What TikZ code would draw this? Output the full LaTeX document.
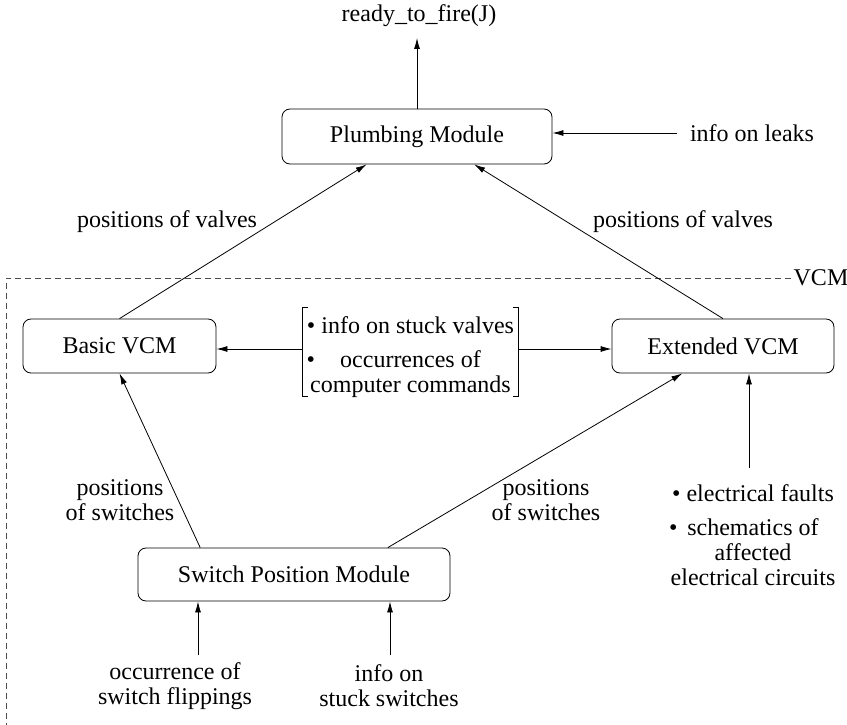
\documentclass[tikz,border=0pt]{standalone}
\usepackage{fontspec}
\setmainfont{Liberation Serif}
\usetikzlibrary{arrows.meta}
\tikzset{
  every node/.style={font=\fontsize{24}{25}\selectfont},
  modbox/.style={draw, rounded corners=8pt, line width=0.8pt, inner sep=0pt, minimum height=54pt},
  txt/.style={inner sep=0pt, align=center},
  conn/.style={line width=0.8pt, -{Latex[length=11pt,width=6pt]}},
  frame/.style={dashed, dash pattern=on 6pt off 4pt, line width=0.8pt, black!70},
  brk/.style={line width=0.8pt}
}
\begin{document}
\begin{tikzpicture}[x=1pt,y=-1pt]
\path[use as bounding box] (0,0) rectangle (847,725);

% modules
\node[modbox, minimum width=270pt, minimum height=55pt] (pm) at (417,136.5) {Plumbing Module};
\node[modbox, minimum width=193pt] (bv) at (119.5,346) {Basic VCM};
\node[modbox, minimum width=222pt] (ev) at (723,346) {Extended VCM};
\node[modbox, minimum width=312pt, minimum height=53pt] (spm) at (294,574.5) {Switch Position Module};

% texts
\node[txt] (rtf) at (419,16) {ready\_to\_fire(J)};
\node[txt] (leaks) at (752,133) {info on leaks};
\node[txt] (pv1) at (167,222) {positions of valves};
\node[txt] (pv2) at (683,222) {positions of valves};
\node[txt, inner sep=2pt] (vcm) at (821,278) {VCM};
\node[txt] (ps1) at (120,500) {positions\\of switches};
\node[txt] (ps2) at (546,500) {positions\\of switches};
\node[txt] (flip) at (175,686) {occurrence of\\switch flippings};
\node[txt] (stuck) at (389,686) {info on\\stuck switches};
\node[txt] (elec) at (753,535) {\makebox[168pt]{\textbullet\ electrical faults}\\[9pt]
  \makebox[168pt]{\rlap{\textbullet}\hfill schematics of\hfill}\\ affected\\ electrical circuits};
\node[txt, inner xsep=4pt, inner ysep=3pt, minimum height=88pt] (br) at (410.5,357)
  {\makebox[208pt]{\textbullet\ info on stuck valves}\\[9pt]
   \makebox[208pt]{\rlap{\textbullet}\hfill occurrences of\hfill}\\ computer commands};

% brackets
\draw[brk] ([xshift=6pt,yshift=5pt]br.north west) -- ([yshift=5pt]br.north west) -- ([yshift=5pt]br.south west) -- ([xshift=6pt,yshift=5pt]br.south west);
\draw[brk] ([xshift=-6pt,yshift=5pt]br.north east) -- ([yshift=5pt]br.north east) -- ([yshift=5pt]br.south east) -- ([xshift=-6pt,yshift=5pt]br.south east);

% VCM frame
\draw[frame] (vcm.west) -- (6,278) -- (6,730);

% free ends
\coordinate (rtfin) at (417,38);
\coordinate (lk) at (677,133);
\coordinate (f1) at (198,655);
\coordinate (f2) at (390,655);
\coordinate (el) at (749,468);

% connectors
\draw[conn] (pm.north) -- (rtfin);
\draw[conn] (lk) -- (lk -| pm.east);
\draw[conn] (bv.north) -- (pm.209);
\draw[conn] (ev.north) -- (pm.334);
\draw[conn] ([yshift=8pt]br.west) -- ([yshift=8pt]br.west -| bv.east);
\draw[conn] ([yshift=8pt]br.east) -- ([yshift=8pt]br.east -| ev.west);
\draw[conn] (spm.164.6) -- (bv.south);
\draw[conn] (spm.16.2) -- (ev.214);
\draw[conn] (f1) -- (f1 |- spm.south);
\draw[conn] (f2) -- (f2 |- spm.south);
\draw[conn] (el) -- (el |- ev.south);
\end{tikzpicture}
\end{document}
